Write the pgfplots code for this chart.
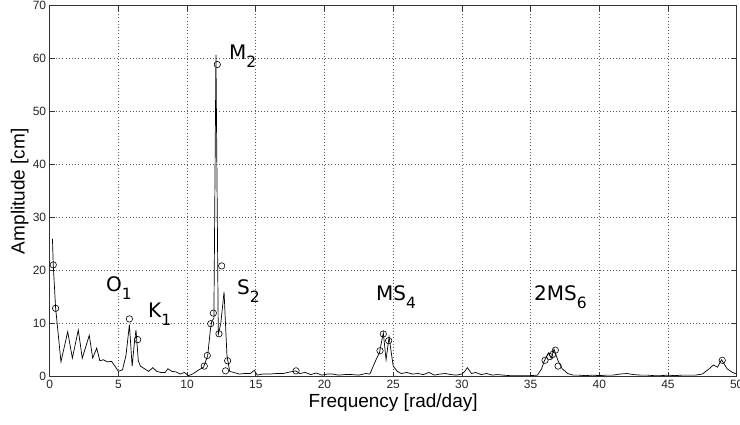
\documentclass[border=0pt]{standalone}
\usepackage{pgfplots}
\pgfplotsset{compat=1.18}
\usepackage{fontspec}
\setmainfont{Liberation Sans}
\newfontfamily\annot{DejaVu Sans}
\newcommand{\lab}[2]{{\annot\fontsize{20}{20}\selectfont #1\raisebox{-8pt}{\fontsize{15.5}{15.5}\selectfont #2}}}
\begin{document}
\begin{tikzpicture}
\path[use as bounding box] (-49.7pt,-47.3pt) rectangle (690.3pt,376.7pt);
\begin{axis}[
  scale only axis, width=687pt, height=371pt,
  at={(0,0)}, anchor=south west,
  xmin=0, xmax=50, ymin=0, ymax=70,
  xtick={0,5,...,50}, ytick={0,10,...,70},
  tick align=inside, tick pos=both,
  major tick length=5pt,
  grid=major,
  major grid style={dash pattern=on 1pt off 2.2pt, black!65, line width=0.6pt},
  axis line style={black!80, line width=0.7pt},
  tick style={black!80, line width=0.6pt},
  ticklabel style={font=\fontsize{12}{12}\selectfont, black!85},
  /pgf/number format/assume math mode=true,
  xlabel={Frequency [rad/day]},
  ylabel={Amplitude [cm]},
  label style={font=\fontsize{19}{19}\selectfont},
  xlabel style={at={(axis description cs:0.5,0)}, anchor=center, yshift=-26pt},
  ylabel style={at={(axis description cs:-0.0435,0.5)}, anchor=center},
  clip=false,
]
\addplot[black, line width=0.7pt, mark=none] coordinates {
(0.2,26) (0.26,21) (0.43,13) (0.82,2.8) (1.31,8.5) (1.65,3.5) (2.08,8.8) (2.37,3.5)
(2.88,7.8) (3.13,3.5) (3.42,5.4) (3.65,3.0) (3.9,3.2) (4.2,2.8) (4.5,2.9) (4.8,1.8)
(5.0,1.0) (5.3,1.3) (5.55,4) (5.8,9.8) (6.0,2.0) (6.15,6) (6.28,8.8) (6.45,3)
(6.6,2.0) (6.9,1.5) (7.2,1.0) (7.5,1.7) (7.8,1.0) (8.1,0.8) (8.4,0.8) (8.6,1.5)
(8.9,1.0) (9.2,0.9) (9.5,0.5) (9.8,0.8) (10.1,0.2) (10.4,0.5) (10.8,1.2) (11.2,1.8)
(11.5,4) (11.7,9) (11.8,10.5) (11.95,11) (12.1,60.7) (12.27,8) (12.45,10) (12.69,16)
(12.9,4) (13.1,1.0) (13.4,0.8) (13.8,0.5) (14.2,0.6) (14.6,0.6) (14.9,1.2) (15.1,0.3)
(15.5,0.5) (16.0,0.5) (16.5,0.6) (17.0,0.6) (17.5,0.9) (17.9,1.1) (18.2,0.6) (18.6,0.8)
(19.0,0.4) (19.4,0.7) (19.8,0.3) (20.2,0.5) (20.6,0.5) (21,0.3) (21.5,0.4) (22,0.4)
(22.5,0.3) (23,0.6) (23.3,0.5) (23.8,3.5) (24.0,4.5) (24.28,8.3) (24.48,3.2) (24.7,7.5)
(25.0,2) (25.3,1) (25.6,0.6) (26,0.8) (26.4,0.5) (26.8,0.6) (27.2,0.4) (27.6,0.8)
(28,0.3) (28.4,0.5) (28.8,0.6) (29.2,0.4) (29.6,0.3) (30.0,0.5) (30.2,1.0) (30.4,1.7)
(30.7,0.6) (31.0,0.8) (31.4,0.4) (31.8,0.6) (32.2,0.3) (32.6,0.4) (33,0.3) (33.5,0.2)
(34,0.2) (34.5,0.2) (35,0.2) (35.5,0.3) (35.8,1.5) (36.0,3.0) (36.3,4.5) (36.5,3.5)
(36.7,5.2) (37.0,3) (37.3,1.5) (37.7,0.6) (38.1,0.3) (38.5,0.3) (39,0.2) (39.5,0.3)
(40,0.2) (40.5,0.3) (41,0.3) (41.5,0.5) (42,0.6) (42.5,0.4) (43,0.3) (43.5,0.3)
(44,0.2) (44.5,0.2) (45,0.3) (45.5,0.2) (46,0.3) (46.5,0.3) (47,0.3) (47.5,0.5)
(48.0,1.5) (48.3,2.2) (48.6,1.8) (48.9,3.2) (49.3,1.5) (49.7,0.8) (50,0.5)
};
\addplot[only marks, mark=o, mark size=3.2pt, mark options={black, line width=0.6pt}] coordinates {
(0.26,21.1) (0.43,12.9) (5.8,10.9) (6.4,7) (11.25,2) (11.47,4) (11.72,10) (11.91,12)
(12.2,58.9) (12.32,8.1) (12.52,20.9) (12.8,1.1) (12.95,3) (17.93,1.1) (24.04,4.9)
(24.28,8.06) (24.67,6.8) (36.05,3.1) (36.4,3.8) (36.6,4.2) (36.8,5) (37.0,2) (48.95,3.1)
};
\node[anchor=base west, inner sep=0pt] at (axis cs:4.1,16.0) {\lab{O}{1}};
\node[anchor=base west, inner sep=0pt] at (axis cs:13.05,59.9) {\lab{M}{2}};
\node[anchor=base west, inner sep=0pt] at (axis cs:7.15,11.1) {\lab{K}{1}};
\node[anchor=base west, inner sep=0pt] at (axis cs:13.63,15.6) {\lab{S}{2}};
\node[anchor=base west, inner sep=0pt] at (axis cs:23.75,14.4) {\lab{MS}{4}};
\node[anchor=base west, inner sep=0pt] at (axis cs:35.25,14.4) {\lab{2MS}{6}};
\end{axis}
\end{tikzpicture}
\end{document}
